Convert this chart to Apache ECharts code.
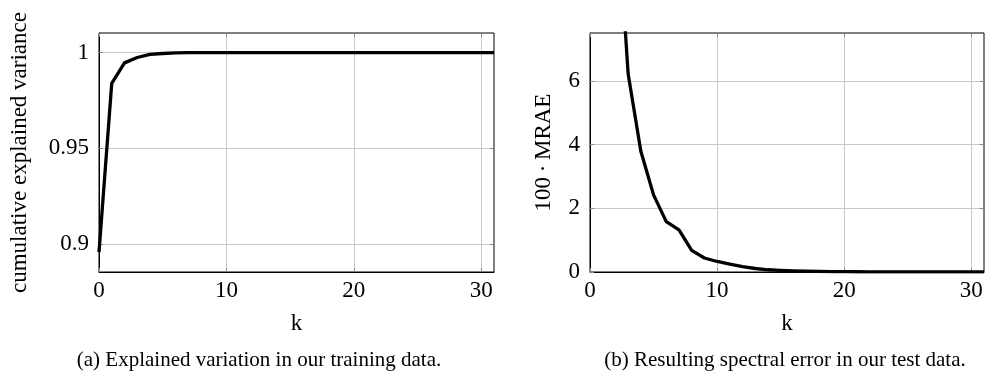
<!DOCTYPE html>
<html>
<head>
<meta charset="utf-8">
<script src="https://cdn.jsdelivr.net/npm/echarts@6/dist/echarts.min.js"></script>
<style>html,body{margin:0;padding:0;background:#fff;}#c{width:986px;height:377px;}</style>
</head>
<body>
<div id="c"></div>
<script>
// ---- data ----
const kA = [0,1,2,3,4,5,6,7,8,9,10,11,12,13,14,15,16,17,18,19,20,21,22,23,24,25,26,27,28,29,30,31];
const varA = [0.8958,0.9839,0.9946,0.9974,0.9990,0.9995,0.9998,0.9999,1,1,1,1,1,1,1,1,1,1,1,1,1,1,1,1,1,1,1,1,1,1,1,1];
const kB = [2,3,4,5,6,7,8,9,10,11,12,13,14,15,16,17,18,19,20,21,22,23,24,25,26,27,28,29,30,31];
const errB = [12.3,6.22,3.79,2.42,1.58,1.32,0.68,0.44,0.33,0.25,0.17,0.11,0.07,0.05,0.035,0.025,0.018,0.013,0.01,0.008,0.006,0.005,0.004,0.003,0.003,0.002,0.002,0.002,0.001,0.001];
const xTicks = [0,10,20,30];
const yTicksA = [0.9,0.95,1];
const yTicksB = [0,2,4,6];
const yLabelsA = {0.9:'0.9',0.95:'0.95',1:'1'};
const captionA = '(a) Explained variation in our training data.';
const captionB = '(b) Resulting spectral error in our test data.';
const yNameA = 'cumulative explained variance';
const yNameB = '100\u2009·\u2009MRAE';
const xName = 'k';

const FONT = 'Liberation Serif';
const FS = 23;
const gridCol = '#c8c8c8';
const tickCol = '#888';

function xAx(grid, main) {
  return {
    type: 'value', gridIndex: grid, min: 0, max: 31,
    position: main ? 'bottom' : 'top',
    name: main ? xName : '', nameLocation: 'middle', nameGap: 40,
    nameTextStyle: {fontFamily: FONT, fontSize: FS, color: '#000'},
    axisLine: {show: main, onZero: false, lineStyle: {color: '#000', width: 1}},
    axisTick: {show: true, inside: true, length: 4, lineStyle: {color: tickCol}, customValues: xTicks},
    axisLabel: {show: main, fontFamily: FONT, fontSize: FS, color: '#000', margin: 7, customValues: xTicks},
    splitLine: {show: main, lineStyle: {color: gridCol, width: 1}}
  };
}
function yAx(grid, main, min, max, ticks, name, gap, fmt) {
  return {
    type: 'value', gridIndex: grid, min: min, max: max,
    position: main ? 'left' : 'right',
    name: main ? name : '', nameLocation: 'middle', nameGap: gap, nameRotate: 90,
    nameTextStyle: {fontFamily: FONT, fontSize: FS, color: '#000'},
    axisLine: {show: main, onZero: false, lineStyle: {color: '#000', width: 1}},
    axisTick: {show: true, inside: true, length: 4, lineStyle: {color: tickCol}, customValues: ticks},
    axisLabel: {show: main, fontFamily: FONT, fontSize: FS, color: '#000', margin: 10, customValues: ticks, formatter: fmt},
    splitLine: {show: main, lineStyle: {color: gridCol, width: 1}}
  };
}

const chart = echarts.init(document.getElementById('c'), null, {renderer: 'canvas'});
chart.setOption({
  animation: false,
  backgroundColor: '#fff',
  grid: [
    {left: 99, top: 33, width: 395, height: 239, show: true, borderColor: '#000', borderWidth: 1, backgroundColor: 'transparent'},
    {left: 590, top: 33, width: 394, height: 239, show: true, borderColor: '#000', borderWidth: 1, backgroundColor: 'transparent'}
  ],
  xAxis: [xAx(0, true), xAx(1, true), xAx(0, false), xAx(1, false)],
  yAxis: [
    yAx(0, true, 0.8854, 1.0102, yTicksA, yNameA, 68, v => yLabelsA[Math.round(v*100)/100] || String(v)),
    yAx(1, true, 0, 7.5, yTicksB, yNameB, 35, v => String(v)),
    yAx(0, false, 0.8854, 1.0102, yTicksA, '', 0),
    yAx(1, false, 0, 7.5, yTicksB, '', 0)
  ],
  series: [
    {type: 'line', xAxisIndex: 0, yAxisIndex: 0, data: kA.map((k,i)=>[k,varA[i]]), showSymbol: false, clip: true,
     lineStyle: {color: '#000', width: 3.3, join: 'round'}},
    {type: 'line', xAxisIndex: 1, yAxisIndex: 1, data: kB.map((k,i)=>[k,errB[i]]), showSymbol: false, clip: true,
     lineStyle: {color: '#000', width: 3.3, join: 'round'}}
  ],
  graphic: [
    {type: 'text', x: 259, y: 360, style: {text: captionA, font: '21px "' + FONT + '"', fill: '#000', align: 'center', verticalAlign: 'middle'}},
    {type: 'text', x: 785, y: 360, style: {text: captionB, font: '21px "' + FONT + '"', fill: '#000', align: 'center', verticalAlign: 'middle'}}
  ]
});
</script>
</body>
</html>
